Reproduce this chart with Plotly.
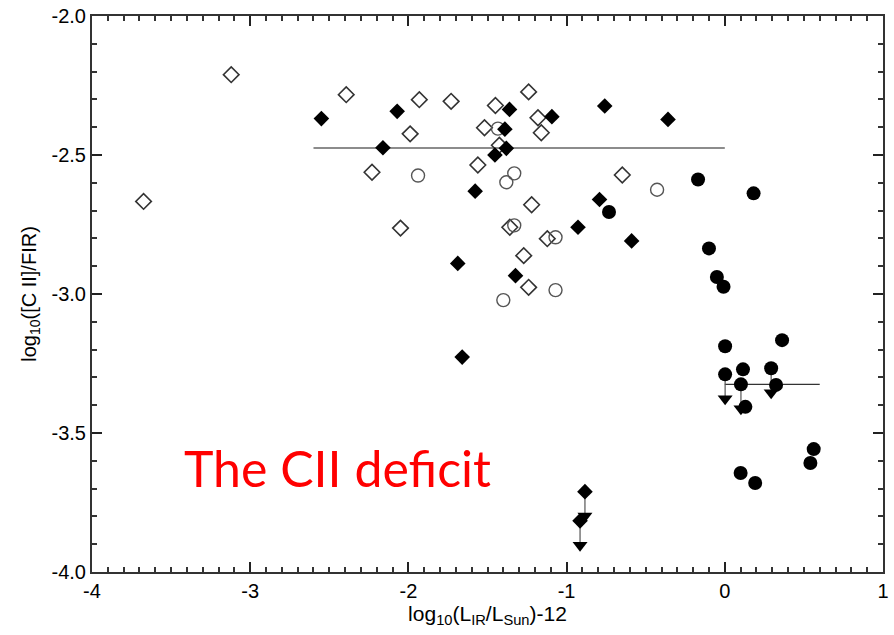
import plotly.graph_objects as go

# log10(L_IR/L_sun)-12 and log10([C II]/FIR) for each sample
open_dia_x = [-3.120, -3.674, -2.393, -1.931, -1.730, -1.989, -2.230, -2.050, -1.450, -1.240,
              -1.181, -1.160, -1.519, -1.425, -1.561, -0.648, -1.221, -1.359, -1.122, -1.271, -1.240]
open_dia_y = [-2.211, -2.667, -2.283, -2.301, -2.307, -2.424, -2.562, -2.763, -2.322, -2.273,
              -2.366, -2.420, -2.402, -2.465, -2.536, -2.572, -2.679, -2.760, -2.801, -2.862, -2.976]

fill_dia_x = [-2.550, -2.071, -2.161, -1.361, -1.093, -0.759, -0.359, -1.390, -1.381, -1.453,
              -1.578, -0.792, -0.928, -0.589, -1.688, -1.323, -1.660]
fill_dia_y = [-2.369, -2.343, -2.474, -2.336, -2.362, -2.324, -2.372, -2.407, -2.476, -2.500,
              -2.630, -2.660, -2.760, -2.809, -2.890, -2.934, -3.227]

open_circ_x = [-1.939, -1.434, -1.331, -1.381, -0.428, -1.331, -1.070, -1.070, -1.400]
open_circ_y = [-2.574, -2.405, -2.566, -2.598, -2.625, -2.753, -2.796, -2.986, -3.022]

fill_circ_x = [-0.169, 0.182, -0.732, -0.100, -0.050, -0.008, 0.002, 0.362, 0.115, 0.324,
               0.130, 0.562, 0.541, 0.100, 0.192]
fill_circ_y = [-2.588, -2.638, -2.705, -2.836, -2.939, -2.974, -3.188, -3.166, -3.271, -3.327,
               -3.406, -3.558, -3.608, -3.644, -3.680]

# upper limits (drawn with a downward arrow)
lim_dia_x = [-0.884, -0.915]
lim_dia_y = [-3.711, -3.816]
lim_circ_x = [0.002, 0.102, 0.293]
lim_circ_y = [-3.289, -3.325, -3.267]
arrow_len = 0.088

# sample means
mean_low_x = [-2.6, 0.0]
mean_low_y = [-2.475, -2.475]
mean_high_x = [0.0, 0.6]
mean_high_y = [-3.325, -3.325]

# tick labels
x_tickvals = [-4, -3, -2, -1, 0, 1]
x_ticktext = ["-4", "-3", "-2", "-1", "0", "1"]
y_tickvals = [-4.0, -3.5, -3.0, -2.5, -2.0]
y_ticktext = ["-4.0", "-3.5", "-3.0", "-2.5", "-2.0"]

fig = go.Figure()

fig.add_trace(go.Scatter(x=mean_low_x, y=mean_low_y, mode="lines",
                         line=dict(color="#8c8c8c", width=2), hoverinfo="skip"))
fig.add_trace(go.Scatter(x=mean_high_x, y=mean_high_y, mode="lines",
                         line=dict(color="#333333", width=1.2), hoverinfo="skip"))

# arrow shafts for upper limits
lim_x = lim_dia_x + lim_circ_x
lim_y = lim_dia_y + lim_circ_y
shaft_x, shaft_y = [], []
for lx, ly in zip(lim_x, lim_y):
    shaft_x += [lx, lx, None]
    shaft_y += [ly, ly - arrow_len, None]
fig.add_trace(go.Scatter(x=shaft_x, y=shaft_y, mode="lines",
                         line=dict(color="#555555", width=1.2), hoverinfo="skip"))

fig.add_trace(go.Scatter(x=open_dia_x, y=open_dia_y, mode="markers",
                         marker=dict(symbol="diamond-open", size=12, color="#333333",
                                     line=dict(width=1.6, color="#333333"))))
fig.add_trace(go.Scatter(x=open_circ_x, y=open_circ_y, mode="markers",
                         marker=dict(symbol="circle-open", size=13, color="#555555",
                                     line=dict(width=1.4, color="#555555"))))
fig.add_trace(go.Scatter(x=fill_dia_x + lim_dia_x, y=fill_dia_y + lim_dia_y, mode="markers",
                         marker=dict(symbol="diamond", size=12, color="black")))
fig.add_trace(go.Scatter(x=fill_circ_x + lim_circ_x, y=fill_circ_y + lim_circ_y, mode="markers",
                         marker=dict(symbol="circle", size=14, color="black")))
fig.add_trace(go.Scatter(x=lim_x, y=[v - arrow_len for v in lim_y], mode="markers",
                         marker=dict(symbol="triangle-down", size=13, color="black")))

fig.add_annotation(x=-3.43, y=-3.627, text="The CII deficit", showarrow=False,
                   xanchor="left", yanchor="middle",
                   font=dict(family="Lato", size=50, color="#ff0000"))

axis_common = dict(showgrid=False, zeroline=False, showline=True, linecolor="#333333",
                   linewidth=2, mirror="ticks", ticks="inside", ticklen=10, tickwidth=2,
                   tickcolor="#222222", layer="above traces",
                   tickfont=dict(family="Liberation Sans", size=20, color="black"))

fig.update_xaxes(range=[-4, 1], tickmode="array", tickvals=x_tickvals, ticktext=x_ticktext,
                 minor=dict(dtick=0.1, tick0=0, ticklen=5, ticks="inside", tickcolor="#333333"),
                 title=dict(text="log<sub>10</sub>(L<sub>IR</sub>/L<sub>Sun</sub>)-12",
                            font=dict(family="Liberation Sans", size=21, color="black"), standoff=4),
                 **axis_common)
fig.update_yaxes(range=[-4, -2], tickmode="array", tickvals=y_tickvals, ticktext=y_ticktext,
                 minor=dict(dtick=0.1, tick0=0, ticklen=5, ticks="inside", tickcolor="#333333"),
                 title=dict(text="log<sub>10</sub>([C II]/FIR)",
                            font=dict(family="Liberation Sans", size=20, color="black"), standoff=10),
                 **axis_common)

fig.update_layout(width=894, height=635, showlegend=False, template="simple_white",
                  margin=dict(l=92, r=5, t=13, b=63))

fig.write_html("out.html")
